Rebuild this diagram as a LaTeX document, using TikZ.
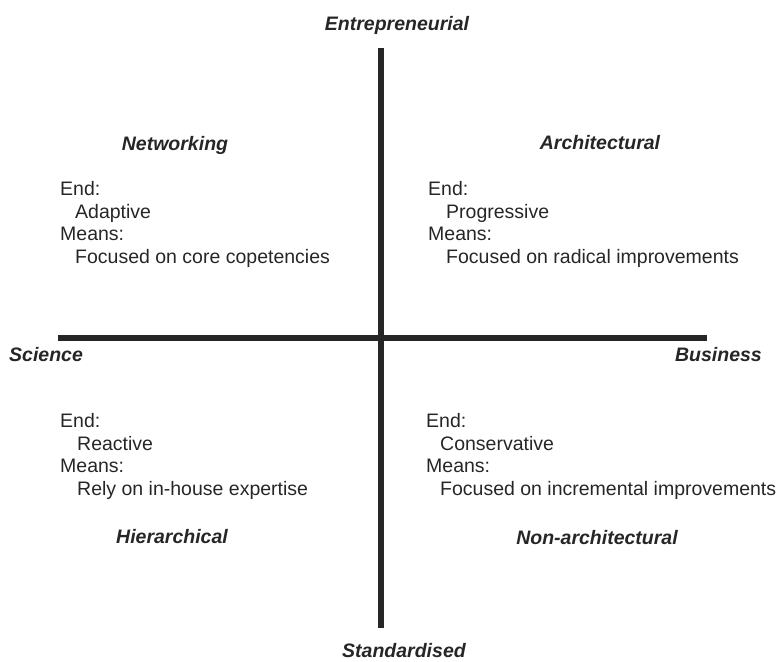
\documentclass[tikz,border=0pt]{standalone}
\usepackage{fontspec}
\setmainfont{Liberation Sans}
\usetikzlibrary{positioning}
\definecolor{inkcol}{HTML}{262626}

\begin{document}
\begin{tikzpicture}[x=1pt, y=-1pt,
  axis/.style={line width=5.5pt, draw=inkcol},
  pole/.style={font=\fontsize{19.5}{22}\selectfont\bfseries\itshape, text=inkcol, inner sep=0pt},
  quad/.style={font=\fontsize{19.5}{22}\selectfont\bfseries\itshape, text=inkcol, inner sep=0pt},
  desc/.style={font=\fontsize{19.5}{22.7}\selectfont, text=inkcol, align=left,
    inner sep=0pt, anchor=north west},
]
\useasboundingbox (0,0) rectangle (780,662);

% axis ends
\coordinate (top) at (381,48);
\coordinate (bot) at (381,628);
\coordinate (lft) at (58,338);
\coordinate (rgt) at (707,338);

\draw[axis] (lft) -- (rgt);
\draw[axis] (top) -- (bot);

% poles of the two dimensions
\node[pole] (entre) at (397,25) {Entrepreneurial};
\node[pole] (stand) at (404,651) {Standardised};
\node[pole, anchor=west] (sci) at (9,355) {Science};
\node[pole, anchor=east] (bus) at (762,355) {Business};

% quadrant names
\node[quad] (netw) at (175,145) {Networking};
\node[quad] (arch) at (600,143) {Architectural};
\node[quad] (hier) at (172,537) {Hierarchical};
\node[quad] (nonarch) at (597,538) {Non-architectural};

% ends and means
\node[desc] (tl) at (60,181) {End:\\\hspace*{15pt}Adaptive\\Means:\\\hspace*{15pt}Focused on core copetencies};
\node[desc] (tr) at (428,181) {End:\\\hspace*{18pt}Progressive\\Means:\\\hspace*{18pt}Focused on radical improvements};
\node[desc] (bl) at (60,413) {End:\\\hspace*{17pt}Reactive\\Means:\\\hspace*{17pt}Rely on in-house expertise};
\node[desc] (br) at (426,413) {End:\\\hspace*{14pt}Conservative\\Means:\\\hspace*{14pt}Focused on incremental improvements};

\end{tikzpicture}
\end{document}
